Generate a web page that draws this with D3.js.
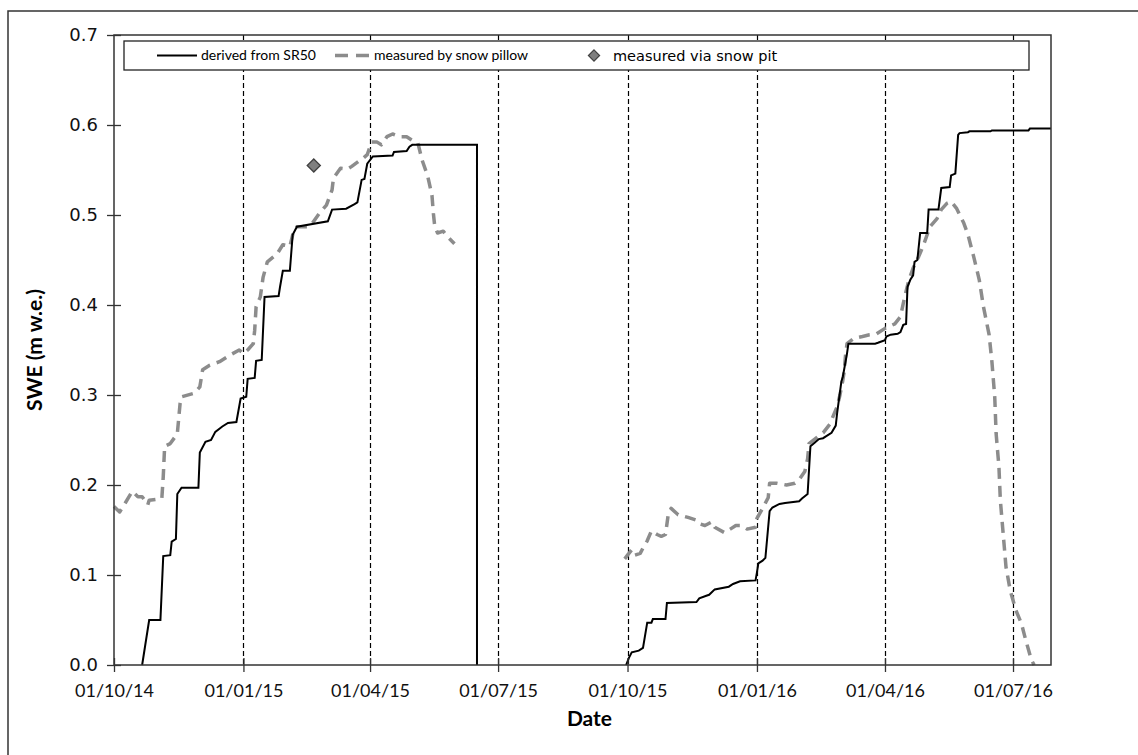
<!DOCTYPE html>
<html>
<head>
<meta charset="utf-8">
<script src="https://cdn.jsdelivr.net/npm/d3@7"></script>
<style>
  body { margin: 0; background: #fff; }
  svg { display: block; }
</style>
</head>
<body>
<div id="chart"></div>
<script>
// SWE series: [date, m w.e.]
const sr50Season1 = [
  ["2014-10-21",0],["2014-10-23",0.02],["2014-10-26",0.05],["2014-11-03",0.05],["2014-11-05",0.121],
  ["2014-11-10",0.122],["2014-11-11",0.137],["2014-11-14",0.14],["2014-11-15",0.19],["2014-11-18",0.197],
  ["2014-11-30",0.197],["2014-12-01",0.236],["2014-12-05",0.248],["2014-12-09",0.25],["2014-12-12",0.259],
  ["2014-12-17",0.265],["2014-12-21",0.269],["2014-12-27",0.27],["2014-12-30",0.296],["2015-01-03",0.298],
  ["2015-01-04",0.318],["2015-01-09",0.319],["2015-01-10",0.338],["2015-01-14",0.339],["2015-01-16",0.409],
  ["2015-01-26",0.41],["2015-01-27",0.42],["2015-01-29",0.438],["2015-02-03",0.438],["2015-02-05",0.478],
  ["2015-02-08",0.487],["2015-03-02",0.493],["2015-03-05",0.506],["2015-03-15",0.507],["2015-03-21",0.512],
  ["2015-03-23",0.514],["2015-03-26",0.539],["2015-03-28",0.54],["2015-03-30",0.557],["2015-04-03",0.565],
  ["2015-04-17",0.566],["2015-04-18",0.57],["2015-04-27",0.571],["2015-04-29",0.576],["2015-05-01",0.578],
  ["2015-06-16",0.578],["2015-06-16",0]
];
const sr50Season2 = [
  ["2015-09-30",0],["2015-10-02",0.008],["2015-10-04",0.014],["2015-10-09",0.016],["2015-10-12",0.019],
  ["2015-10-15",0.047],["2015-10-18",0.047],["2015-10-19",0.051],["2015-10-28",0.051],["2015-10-29",0.069],
  ["2015-11-19",0.07],["2015-11-21",0.074],["2015-11-26",0.077],["2015-11-28",0.078],["2015-12-02",0.084],
  ["2015-12-12",0.087],["2015-12-15",0.09],["2015-12-20",0.093],["2015-12-31",0.094],["2016-01-01",0.103],
  ["2016-01-02",0.113],["2016-01-05",0.116],["2016-01-07",0.119],["2016-01-10",0.171],["2016-01-12",0.175],
  ["2016-01-17",0.179],["2016-01-21",0.18],["2016-01-31",0.182],["2016-02-02",0.185],["2016-02-06",0.19],
  ["2016-02-08",0.243],["2016-02-11",0.247],["2016-02-14",0.251],["2016-02-17",0.252],["2016-02-19",0.254],
  ["2016-02-23",0.258],["2016-02-26",0.266],["2016-02-27",0.28],["2016-03-01",0.315],["2016-03-02",0.32],
  ["2016-03-05",0.346],["2016-03-06",0.357],["2016-03-25",0.357],["2016-03-27",0.358],["2016-04-01",0.361],
  ["2016-04-02",0.365],["2016-04-05",0.367],["2016-04-10",0.368],["2016-04-12",0.37],["2016-04-14",0.378],
  ["2016-04-16",0.379],["2016-04-17",0.42],["2016-04-19",0.428],["2016-04-21",0.433],["2016-04-22",0.448],
  ["2016-04-24",0.45],["2016-04-26",0.48],["2016-05-01",0.48],["2016-05-02",0.506],["2016-05-09",0.506],
  ["2016-05-11",0.53],["2016-05-17",0.531],["2016-05-18",0.544],["2016-05-21",0.546],["2016-05-23",0.589],
  ["2016-05-24",0.591],["2016-05-30",0.592],["2016-05-31",0.593],["2016-06-15",0.593],["2016-06-16",0.594],
  ["2016-07-12",0.594],["2016-07-13",0.596],["2016-07-28",0.596]
];
const pillowSeason1 = [
  ["2014-10-01",0.176],["2014-10-05",0.17],["2014-10-09",0.18],["2014-10-14",0.193],["2014-10-18",0.187],
  ["2014-10-21",0.187],["2014-10-25",0.178],["2014-10-26",0.183],["2014-11-04",0.185],["2014-11-05",0.209],
  ["2014-11-06",0.243],["2014-11-10",0.246],["2014-11-15",0.257],["2014-11-17",0.291],["2014-11-18",0.298],
  ["2014-11-27",0.302],["2014-12-01",0.309],["2014-12-03",0.328],["2014-12-08",0.333],["2014-12-15",0.337],
  ["2014-12-22",0.344],["2014-12-29",0.35],["2015-01-01",0.346],["2015-01-04",0.35],["2015-01-08",0.357],
  ["2015-01-09",0.372],["2015-01-10",0.398],["2015-01-13",0.409],["2015-01-15",0.431],["2015-01-18",0.448],
  ["2015-01-25",0.457],["2015-01-29",0.467],["2015-02-03",0.465],["2015-02-05",0.478],["2015-02-08",0.487],
  ["2015-02-16",0.487],["2015-02-19",0.491],["2015-02-24",0.502],["2015-03-01",0.511],["2015-03-05",0.528],
  ["2015-03-06",0.541],["2015-03-11",0.552],["2015-03-16",0.551],["2015-03-19",0.554],["2015-03-25",0.561],
  ["2015-03-27",0.563],["2015-03-30",0.567],["2015-04-02",0.581],["2015-04-06",0.581],["2015-04-09",0.578],
  ["2015-04-13",0.587],["2015-04-17",0.59],["2015-04-22",0.587],["2015-04-27",0.587],["2015-05-01",0.583],
  ["2015-05-05",0.58],["2015-05-08",0.561],["2015-05-12",0.543],["2015-05-15",0.522],["2015-05-16",0.502],
  ["2015-05-17",0.487],["2015-05-19",0.48],["2015-05-23",0.482],["2015-05-26",0.476],["2015-05-31",0.468]
];
const pillowSeason2 = [
  ["2015-09-29",0.118],["2015-10-01",0.122],["2015-10-04",0.128],["2015-10-06",0.122],["2015-10-10",0.124],
  ["2015-10-12",0.13],["2015-10-15",0.138],["2015-10-18",0.149],["2015-10-22",0.145],["2015-10-25",0.143],
  ["2015-10-28",0.145],["2015-10-30",0.168],["2015-11-01",0.174],["2015-11-06",0.167],["2015-11-13",0.164],
  ["2015-11-19",0.161],["2015-11-21",0.157],["2015-11-25",0.155],["2015-11-30",0.159],["2015-12-02",0.153],
  ["2015-12-09",0.147],["2015-12-13",0.151],["2015-12-17",0.155],["2015-12-21",0.155],["2015-12-25",0.151],
  ["2015-12-31",0.153],["2016-01-01",0.163],["2016-01-05",0.174],["2016-01-09",0.186],["2016-01-10",0.202],
  ["2016-01-15",0.202],["2016-01-22",0.2],["2016-01-28",0.202],["2016-01-31",0.206],["2016-02-04",0.215],
  ["2016-02-06",0.229],["2016-02-07",0.246],["2016-02-12",0.252],["2016-02-17",0.258],["2016-02-22",0.268],
  ["2016-02-24",0.276],["2016-02-27",0.287],["2016-02-29",0.3],["2016-03-02",0.316],["2016-03-03",0.326],
  ["2016-03-04",0.345],["2016-03-05",0.357],["2016-03-10",0.363],["2016-03-16",0.365],["2016-03-21",0.367],
  ["2016-03-26",0.368],["2016-04-01",0.374],["2016-04-08",0.379],["2016-04-12",0.387],["2016-04-15",0.409],
  ["2016-04-18",0.428],["2016-04-21",0.441],["2016-04-25",0.454],["2016-04-28",0.465],["2016-05-03",0.487],
  ["2016-05-08",0.496],["2016-05-11",0.506],["2016-05-15",0.513],["2016-05-18",0.515],["2016-05-22",0.507],
  ["2016-05-27",0.491],["2016-05-30",0.478],["2016-06-03",0.454],["2016-06-07",0.428],["2016-06-10",0.398],
  ["2016-06-14",0.367],["2016-06-16",0.337],["2016-06-18",0.298],["2016-06-19",0.257],["2016-06-21",0.22],
  ["2016-06-22",0.183],["2016-06-24",0.146],["2016-06-26",0.109],["2016-06-29",0.083],["2016-07-03",0.061],
  ["2016-07-07",0.046],["2016-07-10",0.028],["2016-07-14",0.006],["2016-07-16",0]
];
const snowPit = [["2015-02-20",0.555]];

const xTickDates = ["2014-10-01","2015-01-01","2015-04-01","2015-07-01","2015-10-01","2016-01-01","2016-04-01","2016-07-01"];
const xDomain = ["2014-10-01","2016-07-28"];
const yTicks = [0, 0.1, 0.2, 0.3, 0.4, 0.5, 0.6, 0.7];

const W = 1138, H = 755;
const plot = {left: 114, right: 1051, top: 35, bottom: 665};
const parse = d3.timeParse("%Y-%m-%d");
const toPts = arr => arr.map(([d, v]) => ({date: parse(d), v}));

const svg = d3.select("#chart").append("svg")
  .attr("width", W).attr("height", H);

// outer chart frame (cropped on right/bottom in the figure)
svg.append("path")
  .attr("d", `M8,${H + 5}V11H${W + 5}`)
  .attr("fill", "none").attr("stroke", "#333").attr("stroke-width", 1.5);

const x = d3.scaleTime().domain(xDomain.map(parse)).range([plot.left, plot.right]);
const y = d3.scaleLinear().domain([0, 0.7]).range([plot.bottom, plot.top]);

// dashed vertical gridlines
svg.append("g").selectAll("line")
  .data(xTickDates.slice(1).map(parse))
  .join("line")
  .attr("x1", d => Math.round(x(d)) + 0.5).attr("x2", d => Math.round(x(d)) + 0.5)
  .attr("y1", plot.top).attr("y2", plot.bottom)
  .attr("stroke", "#000").attr("stroke-width", 1.2).attr("stroke-dasharray", "5 3");

const line = d3.line().x(d => x(d.date)).y(d => y(d.v));

// snow pillow (grey dashed)
[pillowSeason1, pillowSeason2].forEach(s => {
  svg.append("path").datum(toPts(s))
    .attr("d", line).attr("fill", "none")
    .attr("stroke", "#8c8c8c").attr("stroke-width", 3.5)
    .attr("stroke-dasharray", "11 7").attr("stroke-linejoin", "round");
});

// SR50 derived (black)
[sr50Season1, sr50Season2].forEach(s => {
  svg.append("path").datum(toPts(s))
    .attr("d", line).attr("fill", "none")
    .attr("stroke", "#000").attr("stroke-width", 2);
});

// snow pit marker
const diamond = d3.symbol().type(d3.symbolDiamond2);
svg.append("g").selectAll("path")
  .data(toPts(snowPit))
  .join("path")
  .attr("d", diamond.size(110))
  .attr("transform", d => `translate(${x(d.date)},${y(d.v)})`)
  .attr("fill", "#7f7f7f").attr("stroke", "#404040").attr("stroke-width", 1.3);

// plot border
svg.append("rect")
  .attr("x", plot.left).attr("y", plot.top)
  .attr("width", plot.right - plot.left).attr("height", plot.bottom - plot.top)
  .attr("fill", "none").attr("stroke", "#333").attr("stroke-width", 1.5);

// y axis
const yAxis = svg.append("g")
  .attr("transform", `translate(${plot.left},0)`)
  .call(d3.axisLeft(y).tickValues(yTicks).tickFormat(d3.format(".1f")).tickSize(7).tickPadding(9));
yAxis.select(".domain").remove();
yAxis.selectAll(".tick line").attr("x1", 7).attr("x2", -7).attr("stroke", "#333").attr("stroke-width", 1.3);
yAxis.selectAll(".tick text")
  .attr("font-family", "'DejaVu Sans', Verdana, sans-serif").attr("font-size", 18).attr("fill", "#111");

// x axis
const xAxis = svg.append("g")
  .attr("transform", `translate(0,${plot.bottom})`)
  .call(d3.axisBottom(x).tickValues(xTickDates.map(parse)).tickFormat(d3.timeFormat("%d/%m/%y")).tickSize(7).tickPadding(12));
xAxis.select(".domain").remove();
xAxis.selectAll(".tick line").attr("y1", -7).attr("y2", 7).attr("stroke", "#333").attr("stroke-width", 1.3);
xAxis.selectAll(".tick text")
  .attr("font-family", "Lato, 'Open Sans', sans-serif").attr("font-size", 18).attr("fill", "#111");

// axis titles
svg.append("text")
  .attr("x", (plot.left + plot.right) / 2 + 7).attr("y", 726)
  .attr("text-anchor", "middle")
  .attr("font-family", "Lato, sans-serif").attr("font-weight", "bold").attr("font-size", 21)
  .text("Date");
svg.append("text")
  .attr("transform", `translate(42,${(plot.top + plot.bottom) / 2}) rotate(-90)`)
  .attr("text-anchor", "middle")
  .attr("font-family", "Lato, sans-serif").attr("font-weight", "bold").attr("font-size", 21)
  .text("SWE (m w.e.)");

// legend
const lg = {x: 124, y: 41, w: 905, h: 29};
const legend = svg.append("g");
legend.append("rect")
  .attr("x", lg.x).attr("y", lg.y).attr("width", lg.w).attr("height", lg.h)
  .attr("fill", "#fff").attr("stroke", "#222").attr("stroke-width", 1.3);
const ly = lg.y + lg.h / 2;
legend.append("line").attr("x1", 157).attr("x2", 197).attr("y1", ly).attr("y2", ly)
  .attr("stroke", "#000").attr("stroke-width", 2);
legend.append("text").attr("x", 201).attr("y", ly).attr("dy", "0.35em")
  .attr("font-family", "Lato, sans-serif").attr("font-size", 14).text("derived from SR50");
legend.append("line").attr("x1", 335).attr("x2", 371).attr("y1", ly).attr("y2", ly)
  .attr("stroke", "#8c8c8c").attr("stroke-width", 3.5).attr("stroke-dasharray", "13 8");
legend.append("text").attr("x", 374).attr("y", ly).attr("dy", "0.35em")
  .attr("font-family", "Lato, sans-serif").attr("font-size", 14).text("measured by snow pillow");
legend.append("path").attr("d", diamond.size(80)).attr("transform", `translate(594,${ly})`)
  .attr("fill", "#7f7f7f").attr("stroke", "#404040").attr("stroke-width", 1.2);
legend.append("text").attr("x", 613).attr("y", ly).attr("dy", "0.35em")
  .attr("font-family", "'DejaVu Sans', Verdana, sans-serif").attr("font-size", 14.5).text("measured via snow pit");
</script>
</body>
</html>
